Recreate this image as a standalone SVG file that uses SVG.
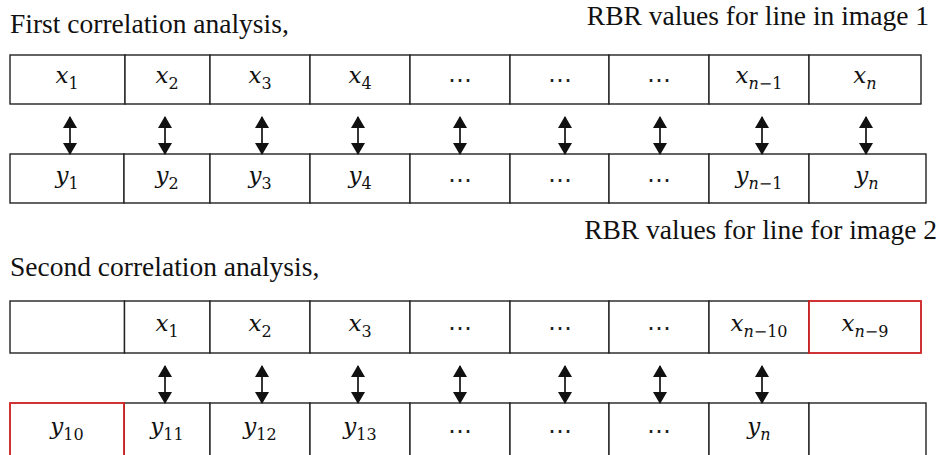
<svg xmlns="http://www.w3.org/2000/svg" width="943" height="455" viewBox="0 0 943 455">
  <defs>
    <style>
      .prose { font-family: 'Liberation Serif', 'Times New Roman', Times, 'DejaVu Serif', serif; font-size: 27.5px; fill: #111; }
      .cell { fill: #fff; stroke: #222; stroke-width: 1.4; }
      .hot { fill: none; stroke: #ff2020; stroke-width: 1.4; }
      .math { font-family: 'DejaVu Serif', 'Liberation Serif', serif; font-size: 23px; font-style: italic; fill: #111; text-anchor: middle; }
      .sub { font-size: 16px; font-style: normal; }
      .it { font-style: italic; }
      .dots { font-family: 'DejaVu Serif', 'Liberation Serif', serif; font-size: 24px; fill: #222; text-anchor: middle; }
      .link { stroke: #111; stroke-width: 1.7; fill: none; marker-start: url(#head); marker-end: url(#head); }
    </style>
    <marker id="head" viewBox="0 0 12 14" refX="11" refY="7" markerWidth="12" markerHeight="14" markerUnits="userSpaceOnUse" orient="auto-start-reverse">
      <path d="M0,0 L12,7 L0,14 Z" fill="#111"/>
    </marker>
  </defs>

  <rect width="943" height="455" fill="#fff"/>

  <!-- headings -->
  <text class="prose" x="10" y="33" font-family="Liberation Serif">First correlation analysis,</text>
  <text class="prose" x="929" y="25" text-anchor="end" font-family="Liberation Serif">RBR values for line in image 1</text>
  <text class="prose" x="937" y="239" text-anchor="end" font-family="Liberation Serif">RBR values for line for image 2</text>
  <text class="prose" x="10" y="276" font-family="Liberation Serif">Second correlation analysis,</text>

  <!-- row A: x values, first analysis -->
  <g id="rowA">
    <g id="a1"><rect class="cell" x="10" y="55" width="115" height="49"/><text class="math" x="67" y="83">x<tspan class="sub" dy="6">1</tspan></text></g>
    <g id="a2"><rect class="cell" x="125" y="55" width="85" height="49"/><text class="math" x="167" y="83">x<tspan class="sub" dy="6">2</tspan></text></g>
    <g id="a3"><rect class="cell" x="210" y="55" width="100" height="49"/><text class="math" x="260" y="83">x<tspan class="sub" dy="6">3</tspan></text></g>
    <g id="a4"><rect class="cell" x="310" y="55" width="100" height="49"/><text class="math" x="360" y="83">x<tspan class="sub" dy="6">4</tspan></text></g>
    <g id="a5"><rect class="cell" x="410" y="55" width="100" height="49"/><text class="dots" x="460" y="88">⋯</text></g>
    <g id="a6"><rect class="cell" x="510" y="55" width="99" height="49"/><text class="dots" x="559.5" y="88">⋯</text></g>
    <g id="a7"><rect class="cell" x="609" y="55" width="100" height="49"/><text class="dots" x="659" y="88">⋯</text></g>
    <g id="a8"><rect class="cell" x="709" y="55" width="100" height="49"/><text class="math" x="759" y="83">x<tspan class="sub" dy="6"><tspan class="it">n</tspan>−1</tspan></text></g>
    <g id="a9"><rect class="cell" x="809" y="55" width="112" height="49"/><text class="math" x="865" y="83">x<tspan class="sub it" dy="6">n</tspan></text></g>
  </g>

  <!-- row B: y values, first analysis -->
  <g id="rowB">
    <g id="b1"><rect class="cell" x="10" y="154" width="114" height="49"/><text class="math" x="67" y="183">y<tspan class="sub" dy="6">1</tspan></text></g>
    <g id="b2"><rect class="cell" x="124" y="154" width="86" height="49"/><text class="math" x="167" y="183">y<tspan class="sub" dy="6">2</tspan></text></g>
    <g id="b3"><rect class="cell" x="210" y="154" width="100" height="49"/><text class="math" x="260" y="183">y<tspan class="sub" dy="6">3</tspan></text></g>
    <g id="b4"><rect class="cell" x="310" y="154" width="100" height="49"/><text class="math" x="360" y="183">y<tspan class="sub" dy="6">4</tspan></text></g>
    <g id="b5"><rect class="cell" x="410" y="154" width="100" height="49"/><text class="dots" x="460" y="188">⋯</text></g>
    <g id="b6"><rect class="cell" x="510" y="154" width="99" height="49"/><text class="dots" x="559.5" y="188">⋯</text></g>
    <g id="b7"><rect class="cell" x="609" y="154" width="100" height="49"/><text class="dots" x="659" y="188">⋯</text></g>
    <g id="b8"><rect class="cell" x="709" y="154" width="100" height="49"/><text class="math" x="759" y="183">y<tspan class="sub" dy="6"><tspan class="it">n</tspan>−1</tspan></text></g>
    <g id="b9"><rect class="cell" x="809" y="154" width="117" height="49"/><text class="math" x="867" y="183">y<tspan class="sub it" dy="6">n</tspan></text></g>
  </g>

  <!-- row C: x values, second analysis -->
  <g id="rowC">
    <g id="c1"><rect class="cell" x="10" y="301" width="114.5" height="52"/></g>
    <g id="c2"><rect class="cell" x="124.5" y="301" width="85.5" height="52"/><text class="math" x="167" y="331">x<tspan class="sub" dy="6">1</tspan></text></g>
    <g id="c3"><rect class="cell" x="210" y="301" width="100" height="52"/><text class="math" x="260" y="331">x<tspan class="sub" dy="6">2</tspan></text></g>
    <g id="c4"><rect class="cell" x="310" y="301" width="100" height="52"/><text class="math" x="360" y="331">x<tspan class="sub" dy="6">3</tspan></text></g>
    <g id="c5"><rect class="cell" x="410" y="301" width="100" height="52"/><text class="dots" x="460" y="336">⋯</text></g>
    <g id="c6"><rect class="cell" x="510" y="301" width="99" height="52"/><text class="dots" x="559.5" y="336">⋯</text></g>
    <g id="c7"><rect class="cell" x="609" y="301" width="100" height="52"/><text class="dots" x="659" y="336">⋯</text></g>
    <g id="c8"><rect class="cell" x="709" y="301" width="100" height="52"/><text class="math" x="759" y="331">x<tspan class="sub" dy="6"><tspan class="it">n</tspan>−10</tspan></text></g>
    <g id="c9"><rect class="cell" x="809" y="301" width="112" height="52"/><rect class="hot" x="809" y="301" width="112" height="52"/><text class="math" x="865" y="331">x<tspan class="sub" dy="6"><tspan class="it">n</tspan>−9</tspan></text></g>
  </g>

  <!-- row D: y values, second analysis -->
  <g id="rowD">
    <g id="d2"><rect class="cell" x="124" y="403" width="86" height="53"/><text class="math" x="167" y="434">y<tspan class="sub" dy="6">11</tspan></text></g>
    <g id="d3"><rect class="cell" x="210" y="403" width="100" height="53"/><text class="math" x="260" y="434">y<tspan class="sub" dy="6">12</tspan></text></g>
    <g id="d4"><rect class="cell" x="310" y="403" width="100" height="53"/><text class="math" x="360" y="434">y<tspan class="sub" dy="6">13</tspan></text></g>
    <g id="d5"><rect class="cell" x="410" y="403" width="100" height="53"/><text class="dots" x="460" y="439">⋯</text></g>
    <g id="d6"><rect class="cell" x="510" y="403" width="99" height="53"/><text class="dots" x="559.5" y="439">⋯</text></g>
    <g id="d7"><rect class="cell" x="609" y="403" width="100" height="53"/><text class="dots" x="659" y="439">⋯</text></g>
    <g id="d8"><rect class="cell" x="709" y="403" width="100" height="53"/><text class="math" x="759" y="434">y<tspan class="sub it" dy="6">n</tspan></text></g>
    <g id="d9"><rect class="cell" x="809" y="403" width="117" height="53"/></g>
    <g id="d1"><rect class="cell" x="10" y="403" width="114" height="53"/><rect class="hot" x="10" y="403" width="114" height="53"/><text class="math" x="67" y="434">y<tspan class="sub" dy="6">10</tspan></text></g>
  </g>

  <!-- two-way links between paired cells -->
  <g id="connectors">
    <path class="link" d="M70,117 V154"/>
    <path class="link" d="M165,117 V154"/>
    <path class="link" d="M262,117 V154"/>
    <path class="link" d="M358,117 V154"/>
    <path class="link" d="M460,117 V154"/>
    <path class="link" d="M565,117 V154"/>
    <path class="link" d="M660,117 V154"/>
    <path class="link" d="M762,117 V154"/>
    <path class="link" d="M866,117 V154"/>

    <path class="link" d="M165,366 V403"/>
    <path class="link" d="M262,366 V403"/>
    <path class="link" d="M358,366 V403"/>
    <path class="link" d="M460,366 V403"/>
    <path class="link" d="M565,366 V403"/>
    <path class="link" d="M660,366 V403"/>
    <path class="link" d="M762,366 V403"/>
  </g>
</svg>
